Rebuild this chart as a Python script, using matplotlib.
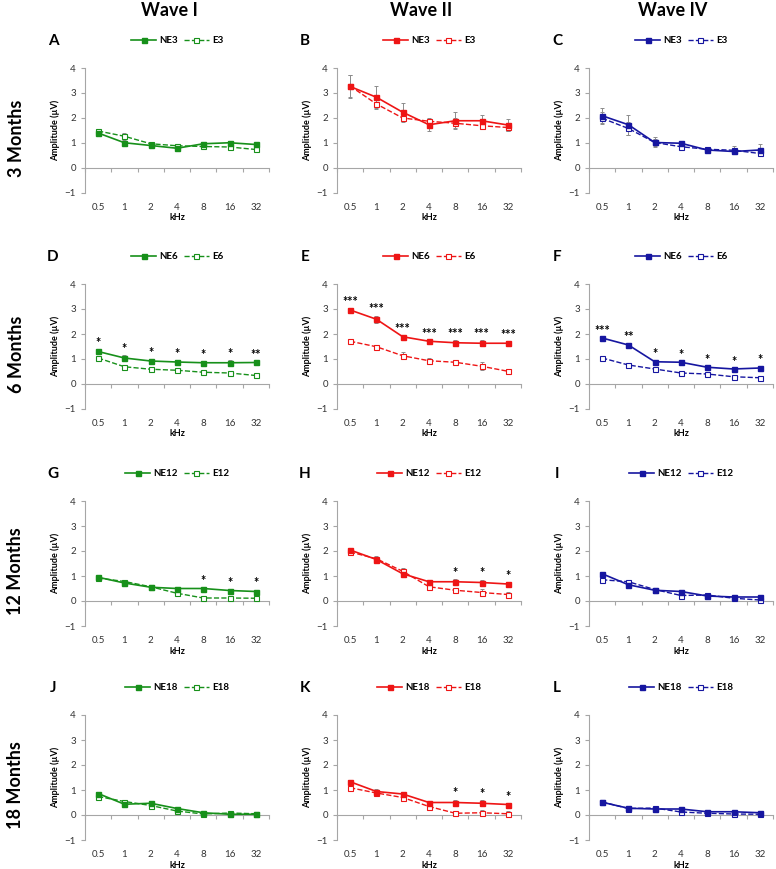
import matplotlib
matplotlib.use("Agg")
import matplotlib.pyplot as plt
from matplotlib.ticker import FixedLocator, NullLocator

plt.rcParams["font.family"] = ["Lato", "DejaVu Sans"]

freqs = ["0.5", "1", "2", "4", "8", "16", "32"]
ages = ["3", "6", "12", "18"]
waves = ["Wave I", "Wave II", "Wave IV"]
letters = ["A", "B", "C", "D", "E", "F", "G", "H", "I", "J", "K", "L"]
wave_colors = ["#17901a", "#ee1515", "#1616a0"]

# Wave I
w1_ne3 = [1.40, 1.01, 0.90, 0.79, 0.97, 1.01, 0.94]
w1_e3 = [1.48, 1.27, 0.97, 0.89, 0.86, 0.84, 0.74]
w1_ne6 = [1.30, 1.04, 0.92, 0.88, 0.85, 0.85, 0.86]
w1_e6 = [1.04, 0.69, 0.59, 0.55, 0.47, 0.44, 0.34]
w1_ne12 = [0.95, 0.72, 0.55, 0.50, 0.50, 0.42, 0.38]
w1_e12 = [0.92, 0.78, 0.57, 0.31, 0.12, 0.12, 0.11]
w1_ne18 = [0.86, 0.43, 0.47, 0.26, 0.09, 0.03, 0.03]
w1_e18 = [0.74, 0.54, 0.38, 0.16, 0.04, 0.08, 0.05]

# Wave II
w2_ne3 = [3.26, 2.83, 2.23, 1.73, 1.89, 1.89, 1.72]
w2_e3 = [3.28, 2.56, 2.00, 1.87, 1.79, 1.69, 1.62]
w2_ne6 = [2.96, 2.59, 1.89, 1.71, 1.65, 1.63, 1.63]
w2_e6 = [1.71, 1.49, 1.13, 0.93, 0.87, 0.71, 0.51]
w2_ne12 = [2.04, 1.66, 1.09, 0.77, 0.77, 0.74, 0.68]
w2_e12 = [1.96, 1.69, 1.19, 0.57, 0.43, 0.34, 0.26]
w2_ne18 = [1.33, 0.94, 0.84, 0.50, 0.50, 0.47, 0.42]
w2_e18 = [1.09, 0.88, 0.70, 0.34, 0.07, 0.09, 0.05]

# Wave IV
w4_ne3 = [2.09, 1.73, 1.02, 0.99, 0.72, 0.66, 0.72]
w4_e3 = [1.99, 1.58, 1.02, 0.85, 0.75, 0.71, 0.58]
w4_ne6 = [1.84, 1.56, 0.89, 0.87, 0.67, 0.60, 0.64]
w4_e6 = [1.04, 0.76, 0.60, 0.44, 0.40, 0.29, 0.25]
w4_ne12 = [1.09, 0.65, 0.43, 0.38, 0.20, 0.16, 0.16]
w4_e12 = [0.85, 0.77, 0.46, 0.22, 0.24, 0.11, 0.04]
w4_ne18 = [0.51, 0.27, 0.24, 0.24, 0.13, 0.13, 0.09]
w4_e18 = [0.52, 0.26, 0.28, 0.12, 0.07, 0.04, 0.03]

# error bars (SEM)
w1_ne3_err = [0.06, 0.10, 0.05, 0.05, 0.06, 0.08, 0.06]
w1_e3_err = [0.06, 0.12, 0.08, 0.06, 0.06, 0.07, 0.07]
w1_ne6_err = [0.08, 0.10, 0.06, 0.06, 0.08, 0.12, 0.07]
w1_e6_err = [0.05, 0.05, 0.04, 0.05, 0.04, 0.05, 0.04]
w1_ne12_err = [0.06, 0.10, 0.05, 0.05, 0.08, 0.08, 0.08]
w1_e12_err = [0.06, 0.07, 0.04, 0.05, 0.04, 0.06, 0.05]
w1_ne18_err = [0.05, 0.06, 0.05, 0.05, 0.05, 0.04, 0.03]
w1_e18_err = [0.05, 0.06, 0.05, 0.04, 0.04, 0.05, 0.04]

w2_ne3_err = [0.45, 0.43, 0.37, 0.25, 0.33, 0.24, 0.24]
w2_e3_err = [0.45, 0.20, 0.15, 0.10, 0.20, 0.15, 0.15]
w2_ne6_err = [0.08, 0.15, 0.08, 0.06, 0.10, 0.12, 0.08]
w2_e6_err = [0.05, 0.06, 0.15, 0.12, 0.08, 0.15, 0.10]
w2_ne12_err = [0.08, 0.10, 0.08, 0.08, 0.10, 0.12, 0.08]
w2_e12_err = [0.08, 0.10, 0.12, 0.12, 0.08, 0.15, 0.10]
w2_ne18_err = [0.06, 0.10, 0.06, 0.08, 0.12, 0.12, 0.08]
w2_e18_err = [0.06, 0.08, 0.12, 0.12, 0.06, 0.12, 0.10]

w4_ne3_err = [0.30, 0.40, 0.15, 0.10, 0.05, 0.08, 0.25]
w4_e3_err = [0.25, 0.25, 0.20, 0.08, 0.05, 0.15, 0.10]
w4_ne6_err = [0.06, 0.06, 0.08, 0.06, 0.06, 0.05, 0.06]
w4_e6_err = [0.05, 0.05, 0.04, 0.04, 0.04, 0.03, 0.03]
w4_ne12_err = [0.05, 0.05, 0.05, 0.05, 0.04, 0.04, 0.04]
w4_e12_err = [0.05, 0.05, 0.05, 0.04, 0.04, 0.03, 0.03]
w4_ne18_err = [0.04, 0.04, 0.04, 0.04, 0.04, 0.04, 0.04]
w4_e18_err = [0.04, 0.04, 0.04, 0.04, 0.04, 0.04, 0.04]

# significance marks
stars_d = ["*", "*", "*", "*", "*", "*", "**"]
stars_e = ["***"] * 7
stars_f = ["***", "**", "*", "*", "*", "*", "*"]
stars_late = ["", "", "", "", "*", "*", "*"]
no_stars = [""] * 7

ne_rows = [[w1_ne3, w2_ne3, w4_ne3], [w1_ne6, w2_ne6, w4_ne6],
           [w1_ne12, w2_ne12, w4_ne12], [w1_ne18, w2_ne18, w4_ne18]]
e_rows = [[w1_e3, w2_e3, w4_e3], [w1_e6, w2_e6, w4_e6],
          [w1_e12, w2_e12, w4_e12], [w1_e18, w2_e18, w4_e18]]
ne_err_rows = [[w1_ne3_err, w2_ne3_err, w4_ne3_err], [w1_ne6_err, w2_ne6_err, w4_ne6_err],
               [w1_ne12_err, w2_ne12_err, w4_ne12_err], [w1_ne18_err, w2_ne18_err, w4_ne18_err]]
e_err_rows = [[w1_e3_err, w2_e3_err, w4_e3_err], [w1_e6_err, w2_e6_err, w4_e6_err],
              [w1_e12_err, w2_e12_err, w4_e12_err], [w1_e18_err, w2_e18_err, w4_e18_err]]
star_rows = [[no_stars, no_stars, no_stars], [stars_d, stars_e, stars_f],
             [stars_late, stars_late, no_stars], [no_stars, stars_late, no_stars]]

W, H = 776, 869
fig = plt.figure(figsize=(W / 100, H / 100), dpi=100)

col_left = [85, 337, 589]
col_w = 184
row_top = [68, 284, 501, 715]
row_h = 125
axis_gray = "#a6a6a6"
x = list(range(len(freqs)))

for r in range(4):
    for c in range(3):
        color = wave_colors[c]
        ax = fig.add_axes([col_left[c] / W, 1 - (row_top[r] + row_h) / H, col_w / W, row_h / H])
        ne, e = ne_rows[r][c], e_rows[r][c]
        ne_err, e_err = ne_err_rows[r][c], e_err_rows[r][c]

        ax.errorbar(x, ne, yerr=ne_err, fmt="none", ecolor="#8c8c8c", elinewidth=0.7, capsize=1.5, capthick=0.7, zorder=2)
        ax.errorbar(x, e, yerr=e_err, fmt="none", ecolor="#8c8c8c", elinewidth=0.7, capsize=1.5, capthick=0.7, zorder=2)
        ax.plot(x, ne, "-s", color=color, lw=1.2, ms=3.6, mfc=color, mec=color, label=f"NE{ages[r]}", zorder=4)
        ax.plot(x, e, "--s", color=color, lw=1.0, ms=3.6, mfc="white", mec=color, mew=0.8, label=f"E{ages[r]}", zorder=3)

        for i, s in enumerate(star_rows[r][c]):
            if s:
                ax.text(x[i], ne[i] + ne_err[i], s, ha="center", va="bottom", fontsize=9, fontweight="bold")

        ax.set_xlim(-0.5, 6.5)
        ax.set_ylim(-1, 4)
        for side in ["top", "right"]:
            ax.spines[side].set_visible(False)
        ax.spines["left"].set_color(axis_gray)
        ax.spines["bottom"].set_color(axis_gray)
        ax.spines["bottom"].set_position(("data", 0))
        ax.set_yticks([-1, 0, 1, 2, 3, 4])
        ax.tick_params(axis="y", colors=axis_gray, labelcolor="#333333", labelsize=7, length=3, width=0.8)
        # zero line carries the boundary ticks, labels sit at the bottom
        ax.xaxis.set_major_locator(FixedLocator([i - 0.5 for i in range(8)]))
        ax.xaxis.set_minor_locator(NullLocator())
        ax.tick_params(axis="x", length=3, width=0.8, color=axis_gray, labelbottom=False)

        sec = ax.secondary_xaxis("bottom")
        sec.set_xticks(x)
        sec.set_xticklabels(freqs)
        sec.spines["bottom"].set_visible(False)
        sec.tick_params(axis="x", length=0, pad=7, labelsize=7, labelcolor="#333333")

        ax.set_ylabel("Amplitude (µV)", fontsize=6.5, fontweight="bold", labelpad=3)
        ax.text(0.5, -0.2, "kHz", transform=ax.transAxes, ha="center", va="center", fontsize=6.5, fontweight="bold")

        leg = ax.legend(loc="center", bbox_to_anchor=(0.5, 1.22), ncol=2, frameon=False, fontsize=7,
                        handlelength=2.6, columnspacing=0.6, handletextpad=0.3, borderaxespad=0)
        for t in leg.get_texts():
            t.set_fontweight("bold")

        fig.text((col_left[c] - 32) / W, 1 - (row_top[r] - 27) / H, letters[r * 3 + c],
                 ha="center", va="center", fontsize=11, fontweight="bold")

for c, name in enumerate(waves):
    fig.text((col_left[c] + col_w / 2 - 8) / W, 1 - 11 / H, name, ha="center", va="center",
             fontsize=13, fontweight="bold")

for r, age in enumerate(ages):
    fig.text(16 / W, 1 - (row_top[r] + 70) / H, f"{age} Months", rotation=90, ha="center", va="center",
             fontsize=13, fontweight="bold")

fig.savefig("out.png", dpi=100)
